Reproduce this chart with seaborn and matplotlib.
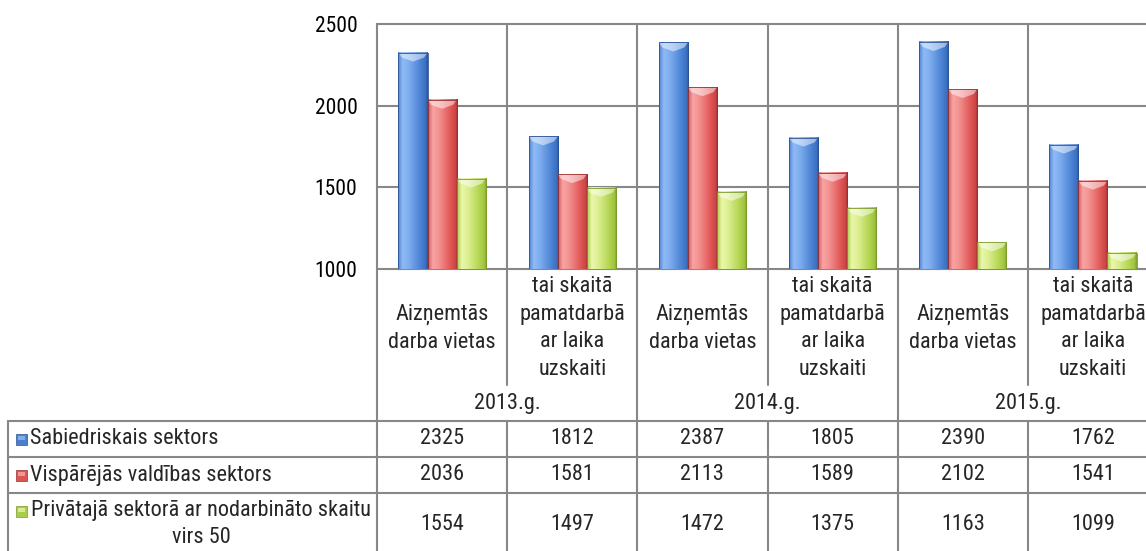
import numpy as np
import pandas as pd
import matplotlib
matplotlib.use("Agg")
import matplotlib.pyplot as plt
import matplotlib.transforms as mtransforms
from matplotlib import font_manager as fm
from matplotlib.colors import LinearSegmentedColormap
from matplotlib.lines import Line2D
from matplotlib.patches import Polygon, Rectangle
import seaborn as sns

# ---------------- data ----------------
years = ["2013.g.", "2014.g.", "2015.g."]
measures = ["Aizņemtās\ndarba vietas", "tai skaitā\npamatdarbā\nar laika\nuzskaiti"]
series_names = ["Sabiedriskais sektors",
                "Vispārējās valdības sektors",
                "Privātajā sektorā ar nodarbināto skaitu\nvirs 50"]
sabiedriskais = [2325, 1812, 2387, 1805, 2390, 1762]
visparejas = [2036, 1581, 2113, 1589, 2102, 1541]
privatajs = [1554, 1497, 1472, 1375, 1163, 1099]
y_ticks = [1000, 1500, 2000, 2500]

# ---------------- style ----------------
sns.set_style("white")

# look for a condensed sans font (Arial Narrow look)
chosen = None
pref_names = ["Liberation Sans Narrow", "Arial Narrow", "Roboto Condensed",
              "Noto Sans Condensed", "Open Sans Condensed",
              "DejaVu Sans Condensed"]
ents = fm.fontManager.ttflist
for pn in pref_names:
    for f in ents:
        if f.name == pn and f.style == "normal" and f.weight in (400, "normal", "regular"):
            chosen = f.fname
            break
    if chosen:
        break
if chosen is None:
    for base in ["Roboto", "Noto Sans", "Open Sans", "Liberation Sans", "DejaVu Sans"]:
        for f in ents:
            if (f.name == base and f.stretch in ("condensed", "semi-condensed")
                    and f.style == "normal" and f.weight in (400, "normal", "regular")):
                chosen = f.fname
                break
        if chosen:
            break

if chosen is not None:
    fm.fontManager.addfont(chosen)
    FAM_NAME = fm.FontProperties(fname=chosen).get_name()
    FS = 16.0
    LS = 1.42
else:
    FAM_NAME = "Liberation Sans"
    FS = 14.3
    LS = 1.3
FP = fm.FontProperties(fname=chosen) if chosen else fm.FontProperties(family=FAM_NAME)
plt.rcParams["font.family"] = [FAM_NAME, "DejaVu Sans"]


def tp(size=None):
    p = FP.copy()
    p.set_size(size if size else FS)
    return p


GRID = "#878787"
LW = 1.5
base_colors = ["#4a7fcc", "#dc5555", "#a9cc4a"]
grad_stops = [
    ["#4f82cf", "#8fbaf5", "#7fadef", "#4f86d6", "#3c70c2", "#2a5496"],
    ["#d25858", "#f8a4a3", "#f29392", "#e35c5b", "#cc4545", "#9a2e2e"],
    ["#a6c94a", "#eaf7a8", "#dcef94", "#b6d755", "#a0c43f", "#7a9a2a"],
]
key_light = ["#8fb9f2", "#f7a9a7", "#e6f5a4"]

W, H = 1146, 551
fig = plt.figure(figsize=(W / 100, H / 100), dpi=100)


def fx(px):
    return px / W


def fy(py):
    return 1 - py / H


AX_L, AX_R, AX_T, AX_B = 377, 1158, 24, 269
ax = fig.add_axes([fx(AX_L), fy(AX_B), (AX_R - AX_L) / W, (AX_B - AX_T) / H])

cat_keys = [f"{y}|{m}" for y in years for m in measures]
df = pd.DataFrame({
    "cat": cat_keys * 3,
    "series": np.repeat(series_names, len(cat_keys)),
    "value": sabiedriskais + visparejas + privatajs,
})
sns.barplot(data=df, x="cat", y="value", hue="series", order=cat_keys,
            hue_order=series_names,
            palette=dict(zip(series_names, base_colors)),
            width=0.67, saturation=1, legend=False, ax=ax,
            linewidth=0, zorder=3)

ax.set_xlim(-0.5, len(cat_keys) - 0.5)
ax.set_ylim(y_ticks[0], y_ticks[-1])
ylo = y_ticks[0]

# gradient fill on bars with a bevelled top
px_per_unit = (AX_B - AX_T) / (y_ticks[-1] - y_ticks[0])
bevel_h = 9 / px_per_unit
for ci, cont in enumerate(ax.containers):
    cmap = LinearSegmentedColormap.from_list(
        f"g{ci}", list(zip([0, 0.16, 0.36, 0.72, 0.92, 1.0], grad_stops[ci])))
    for p in cont.patches:
        x0, y0, w, h = p.get_x(), p.get_y(), p.get_width(), p.get_height()
        top = y0 + h
        grad = np.linspace(0, 1, 256).reshape(1, -1)
        im = ax.imshow(grad, cmap=cmap, extent=[x0, x0 + w, max(y0, ylo), top],
                       aspect="auto", zorder=3.2, interpolation="bilinear")
        im.set_clip_path(p)
        im.set_clip_box(ax.bbox)
        bw = w * 0.12
        cap = Polygon([(x0, top), (x0 + w, top), (x0 + w - bw, top - bevel_h * 0.55),
                       (x0 + w / 2, top - bevel_h), (x0 + bw, top - bevel_h * 0.55)],
                      closed=True, facecolor="white", alpha=0.5,
                      edgecolor="none", zorder=3.4)
        ax.add_patch(cap)
        edge = Rectangle((x0, max(y0, ylo)), w, top - max(y0, ylo),
                         facecolor="none",
                         edgecolor=grad_stops[ci][-1], lw=0.6, zorder=3.5)
        ax.add_patch(edge)

ax.set_xlim(-0.5, len(cat_keys) - 0.5)
ax.set_ylim(y_ticks[0], y_ticks[-1])

# grid / spines
ax.set_yticks(y_ticks)
ax.set_yticklabels([str(v) for v in y_ticks], color="black")
for lab in ax.get_yticklabels():
    lab.set_fontproperties(tp(FS - 0.5))
ax.tick_params(axis="y", length=0, pad=14)
ax.set_xticks([])
ax.set_xlabel("")
ax.set_ylabel("")
for v in y_ticks[1:-1]:
    ax.axhline(v, color=GRID, lw=LW, zorder=1)
for i in range(len(cat_keys) - 1):
    ax.axvline(i + 0.5, color=GRID, lw=LW, zorder=1)
for s in ["left", "bottom", "top"]:
    ax.spines[s].set_color(GRID)
    ax.spines[s].set_linewidth(LW)
ax.spines["right"].set_visible(False)

# -------- data table below --------
bt = mtransforms.blended_transform_factory(ax.transData, fig.transFigure)


def vline_data(x, py1, py2):
    fig.add_artist(Line2D([x, x], [fy(py1), fy(py2)], transform=bt,
                          color=GRID, lw=LW, clip_on=False))


def hline_px(py, px1, px2):
    fig.add_artist(Line2D([fx(px1), fx(px2)], [fy(py), fy(py)],
                          transform=fig.transFigure, color=GRID, lw=LW,
                          clip_on=False))


ROW_TOP, ROW1, ROW2, CAT_END = 421, 457, 493, 385
n = len(cat_keys)
for i in range(n + 1):
    x = i - 0.5
    if i % 2 == 0:
        vline_data(x, AX_B, H)
    else:
        vline_data(x, AX_B, CAT_END)
        vline_data(x, ROW_TOP, H)
for py in (ROW_TOP, ROW1, ROW2):
    hline_px(py, 8, W + 20)
fig.add_artist(Line2D([fx(8), fx(8)], [fy(ROW_TOP), fy(H)],
                      transform=fig.transFigure, color=GRID, lw=LW))

# category labels
for i, key in enumerate(cat_keys):
    m = measures[i % 2]
    ax.text(i, fy(328), m, transform=bt, ha="center", va="center",
            fontproperties=tp(), linespacing=LS, multialignment="center")
for k, yr in enumerate(years):
    ax.text(2 * k + 0.5, fy(403), yr, transform=bt, ha="center",
            va="center", fontproperties=tp())

# table values
rows = [sabiedriskais, visparejas, privatajs]
row_cy = [439, 475, 524]
for r, vals in enumerate(rows):
    for i, v in enumerate(vals):
        ax.text(i, fy(row_cy[r]), str(v), transform=bt, ha="center",
                va="center", fontproperties=tp())

# row headers with legend keys
key_cy = [439, 475, 511]
for r, name in enumerate(series_names):
    kx, ks = 16, 11
    fig.add_artist(Rectangle((fx(kx), fy(key_cy[r] + ks / 2)), ks / W, ks / H,
                             transform=fig.transFigure,
                             facecolor=base_colors[r],
                             edgecolor=grad_stops[r][-1], lw=0.5))
    fig.add_artist(Rectangle((fx(kx + 1.5), fy(key_cy[r] + 0.5)),
                             (ks - 4) / W, (ks / 2 - 1.5) / H,
                             transform=fig.transFigure,
                             facecolor=key_light[r], edgecolor="none", alpha=0.8))
    if "\n" in name:
        fig.text(fx(201), fy(row_cy[r]), name, ha="center", va="center",
                 fontproperties=tp(), linespacing=LS * 0.96,
                 multialignment="center")
    else:
        fig.text(fx(30), fy(row_cy[r]), name, ha="left", va="center",
                 fontproperties=tp())

fig.savefig("out.png", dpi=100)
